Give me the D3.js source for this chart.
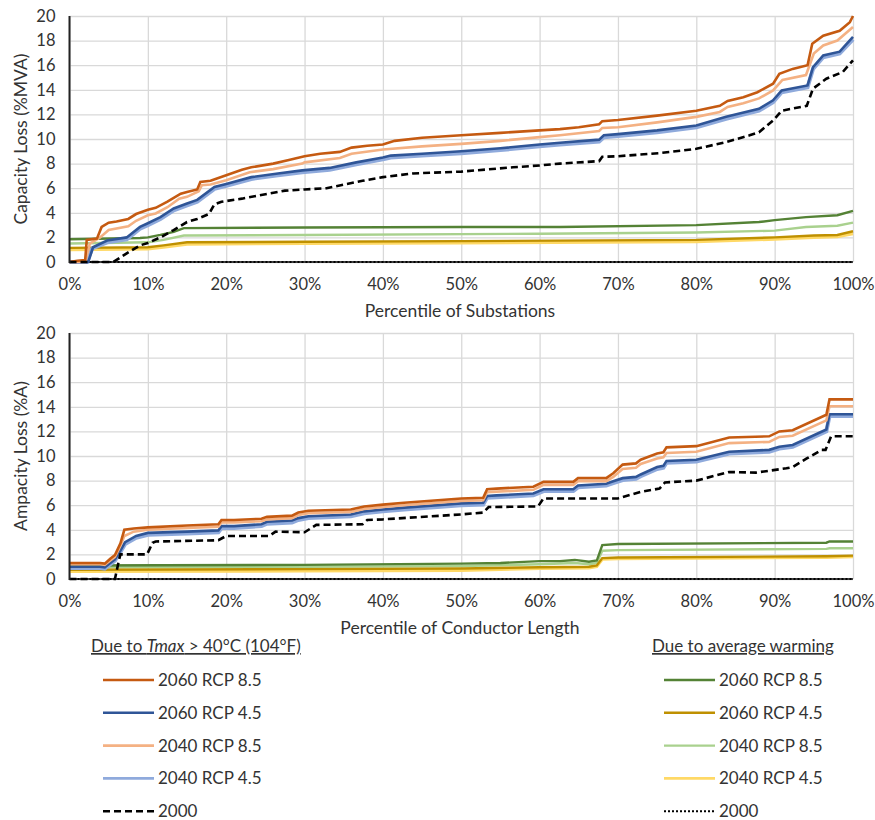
<!DOCTYPE html>
<html lang="en">
<head>
  <meta charset="UTF-8">
  <title>Capacity and ampacity loss</title>
  <style>
    body, html {
      margin: 0;
      background-color: white;
    }
    svg text {
      font-family: Lato, 'Open Sans', sans-serif;
      fill: #333;
    }
  </style>
</head>
<body>
  <svg id="svg" width="875" height="820"></svg>
  <script src="https://d3js.org/d3.v7.min.js"></script>
  <script>
    // ---- data: [percentile, loss %] ----
    const xTicks = [0, 10, 20, 30, 40, 50, 60, 70, 80, 90, 100]
    const yTicks = [0, 2, 4, 6, 8, 10, 12, 14, 16, 18, 20]

    // top panel: capacity loss (%MVA)
    const capTmax60_85 = [[0,0],[1,0.1],[2,0.15],[2.2,1.8],[3.5,1.9],[4.1,2.85],[5,3.2],[6,3.3],[7.5,3.5],[8.5,3.9],[10,4.25],[11,4.4],[12.5,4.9],[14.2,5.55],[15,5.7],[16.3,5.9],[16.7,6.5],[18,6.6],[20,7.05],[22,7.5],[23.2,7.7],[26,8.0],[28,8.3],[30,8.6],[32,8.8],[34.5,8.95],[36,9.3],[38,9.45],[40,9.55],[41.5,9.85],[45,10.1],[50,10.3],[55,10.5],[60,10.7],[62.6,10.8],[65,10.95],[67.6,11.2],[68,11.45],[70,11.55],[75,11.9],[80,12.3],[83,12.7],[84,13.1],[86,13.4],[87.8,13.8],[89.8,14.5],[90.6,15.3],[92.3,15.7],[94.2,16.0],[94.8,17.75],[96.2,18.4],[98.3,18.8],[99.6,19.5],[100,20]]
    const capTmax40_85 = [[0,0],[2,0],[2.6,1.5],[3.9,2.0],[5,2.6],[7.5,2.9],[8.5,3.35],[10,3.8],[11,3.95],[12.5,4.45],[14,5.15],[15,5.3],[16.5,5.75],[16.9,6.25],[18,6.3],[20,6.65],[23,7.3],[26,7.55],[29.7,8.0],[30,8.1],[34.5,8.45],[36,8.8],[40,9.15],[45,9.4],[50,9.6],[55,9.85],[60,10.15],[62.6,10.3],[67.6,10.65],[68,10.9],[70,10.95],[75,11.35],[80,11.8],[83,12.2],[84,12.6],[86,12.9],[88,13.3],[89.8,13.95],[91,14.8],[94,15.2],[95,16.95],[96.2,17.6],[98,18.0],[100,19.1]]
    const capTmax60_45 = [[0,0],[2.4,0],[3,1.2],[4.8,1.75],[7.3,2.0],[9,2.85],[10,3.15],[11.6,3.65],[13.3,4.35],[15,4.75],[16.3,5.05],[18.5,6.1],[20,6.35],[23.2,6.9],[26.6,7.2],[29.7,7.45],[33.2,7.65],[36.6,8.1],[40,8.5],[41,8.65],[45,8.8],[50,9.0],[55,9.25],[60,9.55],[62.6,9.7],[67.6,9.95],[68.2,10.3],[70,10.4],[75,10.7],[80,11.1],[83.8,11.8],[88,12.45],[89.8,13.15],[90.9,13.95],[94.2,14.35],[94.9,15.85],[96.2,16.8],[98.3,17.1],[100,18.3]]
    const capTmax40_45 = [[0,0],[2.2,0],[2.9,1.1],[4.8,1.6],[7.3,1.85],[9,2.7],[10,3.0],[11.6,3.5],[13.3,4.2],[15,4.6],[16.3,4.9],[18.5,5.95],[20,6.2],[23.2,6.75],[26.6,7.05],[29.7,7.3],[33.2,7.5],[36.6,7.95],[40,8.35],[41,8.5],[45,8.65],[50,8.85],[55,9.1],[60,9.4],[62.6,9.55],[67.6,9.8],[68.2,10.15],[70,10.25],[75,10.55],[80,10.95],[83.8,11.65],[88,12.3],[89.8,13.0],[90.9,13.8],[94.2,14.2],[94.9,15.7],[96.2,16.65],[98.3,16.95],[100,18.1]]
    const capTmax2000 = [[0,0],[5.6,0],[7.3,0.7],[9,1.35],[10,1.55],[11.6,2.0],[13.3,2.6],[15,3.25],[16.3,3.5],[17.8,3.9],[18.5,4.7],[19.4,4.9],[22,5.15],[25.4,5.55],[27.5,5.8],[30,5.9],[32.8,6.0],[37.4,6.6],[40,6.9],[43.8,7.2],[50,7.35],[56.6,7.7],[60,7.85],[62.6,8.0],[67.6,8.2],[68,8.55],[70,8.6],[75.3,8.85],[80,9.2],[83.8,9.75],[86.8,10.3],[88,10.55],[89.8,11.5],[90.9,12.3],[94.1,12.7],[94.9,14.1],[96.6,14.9],[98.7,15.45],[100,16.4]]
    const capAvg60_85 = [[0,1.85],[9,1.95],[10,2.0],[11.6,2.2],[13.3,2.45],[14.6,2.75],[30,2.8],[50,2.85],[62.6,2.85],[80,3.0],[88,3.25],[90,3.4],[94,3.65],[98,3.8],[100,4.15]]
    const capAvg40_85 = [[0,1.5],[10,1.6],[12,1.8],[14.6,2.15],[30,2.2],[60,2.3],[80,2.4],[90,2.55],[94,2.85],[98,2.95],[100,3.2]]
    const capAvg60_45 = [[0,1.15],[10,1.2],[12,1.35],[15,1.6],[30,1.65],[50,1.7],[80,1.8],[90,2.0],[95,2.15],[98,2.2],[100,2.5]]
    const capAvg40_45 = [[0,1.0],[10,1.05],[12,1.2],[15,1.45],[30,1.5],[50,1.55],[80,1.65],[90,1.85],[95,2.0],[98,2.05],[100,2.3]]
    const capAvg2000 = [[0,0],[100,0]]

    // bottom panel: ampacity loss (%A)
    const ampTmax60_85 = [[0,1.3],[3.9,1.3],[4.5,1.25],[5.2,1.65],[5.8,1.95],[6.5,2.9],[7,4.0],[8.2,4.1],[10,4.2],[15,4.35],[19,4.45],[19.4,4.8],[21,4.8],[24.5,4.9],[25.2,5.05],[28.4,5.15],[29.2,5.4],[30.5,5.55],[35.9,5.65],[37.6,5.9],[40,6.05],[42.7,6.2],[50,6.55],[52.8,6.6],[53.3,7.3],[54.5,7.35],[59.2,7.5],[60.5,7.9],[64.3,7.9],[64.9,8.2],[68.5,8.2],[69.4,8.6],[70.6,9.3],[72.3,9.4],[72.9,9.7],[75,10.2],[75.8,10.3],[76.2,10.7],[80,10.8],[84.2,11.5],[89.3,11.6],[90.6,12.0],[92.3,12.1],[96.6,13.35],[97,14.6],[100,14.6]]
    const ampTmax40_85 = [[0,1.2],[3.9,1.2],[4.5,1.15],[5.2,1.5],[5.8,1.8],[6.5,2.7],[7,3.5],[8.2,3.85],[10,4.0],[15,4.15],[19,4.25],[19.4,4.6],[21,4.6],[24.5,4.7],[25.2,4.85],[28.4,4.95],[29.2,5.2],[30.5,5.35],[35.9,5.45],[37.6,5.7],[40,5.85],[42.7,6.0],[50,6.35],[52.8,6.4],[53.3,7.05],[54.5,7.1],[59.2,7.25],[60.5,7.65],[64.3,7.65],[64.9,7.95],[68.5,7.95],[69.4,8.3],[70.6,8.95],[72.3,9.05],[72.9,9.35],[75,9.8],[75.8,9.9],[76.2,10.25],[80,10.35],[84.2,11.05],[89.3,11.15],[90.6,11.55],[92.3,11.65],[96.6,12.9],[97,14.05],[100,14.05]]
    const ampTmax60_45 = [[0,1.0],[3.9,1.0],[4.5,0.95],[5.2,1.3],[5.8,1.6],[6.5,2.3],[7.1,3.0],[8.5,3.5],[10,3.75],[15,3.85],[19,3.95],[19.4,4.3],[21,4.3],[24.5,4.45],[25.2,4.65],[28.4,4.75],[29.2,4.95],[30.5,5.1],[35.9,5.25],[37.6,5.5],[40,5.65],[42.7,5.8],[50,6.15],[52.8,6.2],[53.3,6.75],[54.5,6.8],[59.2,6.95],[60.5,7.3],[64.3,7.3],[64.9,7.6],[68.5,7.75],[69.4,7.95],[70.6,8.2],[72.3,8.3],[72.9,8.5],[75,9.1],[75.8,9.2],[76.2,9.6],[80,9.7],[84.2,10.35],[89.3,10.5],[90.6,10.75],[92.3,10.9],[96.6,12.15],[97,13.4],[100,13.4]]
    const ampTmax40_45 = [[0,0.9],[3.9,0.9],[4.5,0.85],[5.2,1.2],[5.8,1.5],[6.5,2.2],[7.1,2.85],[8.5,3.35],[10,3.6],[15,3.7],[19,3.8],[19.4,4.15],[21,4.15],[24.5,4.3],[25.2,4.5],[28.4,4.6],[29.2,4.8],[30.5,4.95],[35.9,5.1],[37.6,5.35],[40,5.5],[42.7,5.65],[50,6.0],[52.8,6.05],[53.3,6.6],[54.5,6.65],[59.2,6.8],[60.5,7.15],[64.3,7.15],[64.9,7.45],[68.5,7.6],[69.4,7.8],[70.6,8.05],[72.3,8.15],[72.9,8.35],[75,8.95],[75.8,9.05],[76.2,9.45],[80,9.55],[84.2,10.2],[89.3,10.35],[90.6,10.6],[92.3,10.75],[96.6,12.0],[97,13.25],[100,13.25]]
    const ampTmax2000 = [[0,0],[5.8,0],[6.3,1.5],[6.5,2.0],[9.9,2.0],[10.6,2.95],[11,3.05],[19,3.15],[20,3.5],[25.5,3.5],[26.3,3.85],[30,3.8],[31.5,4.4],[37.4,4.45],[38,4.8],[40,4.85],[50,5.25],[52.8,5.4],[53.5,5.85],[59.8,5.9],[60.5,6.55],[70,6.55],[73,7.1],[75.3,7.35],[76,7.85],[80,8.0],[84.2,8.7],[87.6,8.65],[91.5,9.0],[92.3,9.1],[94.1,9.8],[96,10.5],[96.5,10.5],[97.2,11.6],[100,11.6]]
    const ampAvg60_85 = [[0,1.1],[30,1.15],[50,1.25],[55,1.3],[60,1.45],[62.6,1.45],[64.5,1.55],[66.3,1.4],[67.3,1.5],[68,2.75],[70,2.85],[96.6,2.95],[97,3.05],[100,3.05]]
    const ampAvg40_85 = [[0,0.95],[30,1.0],[50,1.05],[60,1.2],[64.5,1.3],[66.3,1.2],[67.3,1.3],[68,2.3],[70,2.35],[96.6,2.45],[97,2.5],[100,2.5]]
    const ampAvg60_45 = [[0,0.75],[30,0.8],[50,0.85],[60,0.95],[66.3,1.0],[67.3,1.1],[68,1.7],[70,1.75],[96.6,1.85],[100,1.9]]
    const ampAvg40_45 = [[0,0.6],[30,0.65],[50,0.7],[60,0.85],[66.3,0.9],[67.3,1.0],[68,1.6],[70,1.65],[96.6,1.75],[100,1.8]]
    const ampAvg2000 = [[0,0],[100,0]]

    const tmaxNames = ['2060 RCP 8.5', '2060 RCP 4.5', '2040 RCP 8.5', '2040 RCP 4.5', '2000']
    const avgNames = ['2060 RCP 8.5', '2060 RCP 4.5', '2040 RCP 8.5', '2040 RCP 4.5', '2000']
    const tmaxColors = ['#c55a11', '#2f5597', '#f4b183', '#8faadc', '#000']
    const avgColors = ['#548235', '#bf9000', '#a9d18e', '#ffd966', '#000']

    // ---- styles for each series slot (same order as names) ----
    const tmaxStyle = [
      { w: 2.6, dash: null },
      { w: 2.6, dash: null },
      { w: 2.6, dash: null },
      { w: 4, dash: null },
      { w: 2.6, dash: '7,4' }
    ]
    const avgStyle = [
      { w: 2.4, dash: null },
      { w: 2.4, dash: null },
      { w: 2.4, dash: null },
      { w: 3, dash: null },
      { w: 2, dash: '2,2' }
    ]

    const svg = d3.select('#svg')
    const left = 69.5
    const right = 853

    const xScale = d3.scaleLinear().domain([0, 100]).range([left, right])

    function panel(top, bottom, yTitle, xTitle, tmax, avg) {
      const yScale = d3.scaleLinear().domain([0, 20]).range([bottom, top])
      const g = svg.append('g')

      // grid
      g.append('g')
        .attr('transform', `translate(0, ${bottom})`)
        .call(d3.axisBottom(xScale).tickValues(xTicks).tickSize(-(bottom - top)).tickFormat(''))
        .call(a => a.select('.domain').remove())
        .call(a => a.selectAll('line').attr('stroke', '#d9d9d9').attr('stroke-width', 1.3))
      g.append('g')
        .attr('transform', `translate(${left}, 0)`)
        .call(d3.axisLeft(yScale).tickValues(yTicks).tickSize(-(right - left)).tickFormat(''))
        .call(a => a.select('.domain').remove())
        .call(a => a.selectAll('line').attr('stroke', '#d9d9d9').attr('stroke-width', 1.3))

      // tick labels
      g.append('g')
        .attr('transform', `translate(0, ${bottom})`)
        .call(d3.axisBottom(xScale).tickValues(xTicks).tickSize(0).tickPadding(16).tickFormat(d => d + '%'))
        .call(a => a.select('.domain').remove())
        .call(a => a.selectAll('text').style('font-size', '16.5px').attr('fill', '#333'))
      g.append('g')
        .attr('transform', `translate(${left}, 0)`)
        .call(d3.axisLeft(yScale).tickValues(yTicks).tickSize(0).tickPadding(14).tickFormat(d3.format('d')))
        .call(a => a.select('.domain').remove())
        .call(a => a.selectAll('text').style('font-size', '16.5px').attr('fill', '#333'))

      const line = d3.line()
        .x(d => xScale(d[0]))
        .y(d => yScale(d[1]))

      // average warming first, then Tmax on top
      const avgOrder = [3, 2, 1, 0]
      avgOrder.forEach(i => {
        g.append('path')
          .attr('d', line(avg[i]))
          .attr('fill', 'none')
          .attr('stroke', avgColors[i])
          .attr('stroke-width', avgStyle[i].w)
      })

      // axis line, then the 2000 average-warming dots sitting on it
      g.append('line')
        .attr('x1', left).attr('x2', right)
        .attr('y1', bottom).attr('y2', bottom)
        .attr('stroke', '#444').attr('stroke-width', 2)
      g.append('path')
        .attr('d', line(avg[4]))
        .attr('fill', 'none')
        .attr('stroke', avgColors[4])
        .attr('stroke-width', avgStyle[4].w)
        .attr('stroke-dasharray', avgStyle[4].dash)

      const tmaxOrder = [3, 1, 2, 0, 4]
      tmaxOrder.forEach(i => {
        g.append('path')
          .attr('d', line(tmax[i]))
          .attr('fill', 'none')
          .attr('stroke', tmaxColors[i])
          .attr('stroke-width', tmaxStyle[i].w)
          .attr('stroke-dasharray', tmaxStyle[i].dash)
      })

      g.append('line')
        .attr('x1', left).attr('x2', left)
        .attr('y1', top).attr('y2', bottom + 1)
        .attr('stroke', '#222').attr('stroke-width', 2)

      // titles
      g.append('text')
        .attr('transform', `translate(21, ${(top + bottom) / 2}) rotate(-90)`)
        .attr('text-anchor', 'middle')
        .attr('dy', '0.35em')
        .style('font-size', '17.5px')
        .text(yTitle)
      g.append('text')
        .attr('x', 460)
        .attr('y', bottom + 55)
        .attr('text-anchor', 'middle')
        .style('font-size', '17.5px')
        .text(xTitle)
    }

    panel(16, 262, 'Capacity Loss (%MVA)', 'Percentile of Substations',
      [capTmax60_85, capTmax60_45, capTmax40_85, capTmax40_45, capTmax2000],
      [capAvg60_85, capAvg60_45, capAvg40_85, capAvg40_45, capAvg2000])

    panel(333, 579, 'Ampacity Loss (%A)', 'Percentile of Conductor Length',
      [ampTmax60_85, ampTmax60_45, ampTmax40_85, ampTmax40_45, ampTmax2000],
      [ampAvg60_85, ampAvg60_45, ampAvg40_85, ampAvg40_45, ampAvg2000])

    // ---- legends ----
    function legend(x0, headerParts, names, colors, styles) {
      const lg = svg.append('g')
      const h = lg.append('text')
        .attr('x', x0)
        .attr('y', 652)
        .style('font-size', '17px')
        .style('text-decoration', 'underline')
      headerParts.forEach(p => {
        h.append('tspan').style('font-style', p.italic ? 'italic' : 'normal').text(p.t)
      })
      const rows = lg.selectAll('g.row')
        .data(names)
        .enter()
        .append('g')
        .attr('class', 'row')
        .attr('transform', (d, i) => `translate(${x0 + 12}, ${680 + i * 32.8})`)
      rows.append('line')
        .attr('x1', 0).attr('x2', 51)
        .attr('stroke', (d, i) => colors[i])
        .attr('stroke-width', (d, i) => Math.min(styles[i].w, 2.6))
        .attr('stroke-dasharray', (d, i) => styles[i].dash)
      rows.append('text')
        .attr('x', 55)
        .attr('dy', '0.35em')
        .style('font-size', '17px')
        .text(d => d)
    }

    legend(91, [{ t: 'Due to ' }, { t: 'Tmax', italic: true }, { t: ' > 40°C (104°F)' }], tmaxNames, tmaxColors, tmaxStyle)
    legend(652, [{ t: 'Due to average warming' }], avgNames, avgColors, avgStyle)
  </script>
</body>
</html>
